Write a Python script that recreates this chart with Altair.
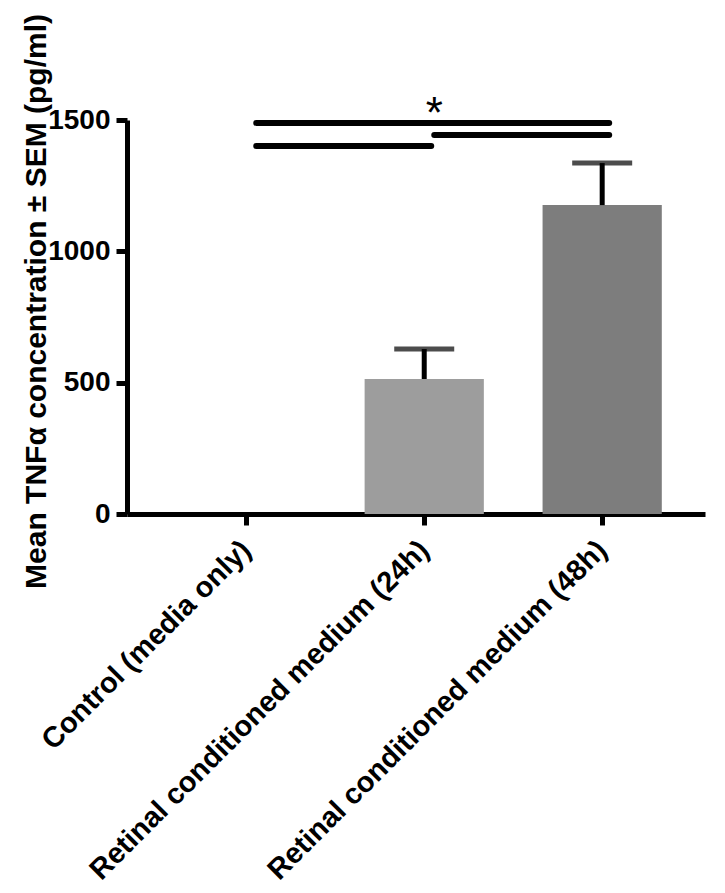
import altair as alt
import pandas as pd

# ---- data ----
categories = [
    "Control (media only)",
    "Retinal conditioned medium (24h)",
    "Retinal conditioned medium (48h)",
]
means = [0, 514, 1176]
sems = [0, 114, 160]
bar_colors = ["#ffffff", "#9d9d9d", "#7d7d7d"]

bracket_from = [categories[0], categories[1], categories[0]]
bracket_to = [categories[2], categories[2], categories[1]]
bracket_y = [1489, 1443, 1401]

star_text = ["*"]
star_cat = [categories[1]]
star_y = [1489]

y_ticks = [0, 500, 1000, 1500]
y_title = "Mean TNFα concentration ± SEM (pg/ml)"

# ---- tables ----
bars_df = pd.DataFrame({
    "group": categories,
    "mean": means,
    "sem": sems,
    "upper": [m + s for m, s in zip(means, sems)],
})
err_df = bars_df[bars_df["sem"] > 0]
br_df = pd.DataFrame({"from": bracket_from, "to": bracket_to, "y": bracket_y})
star_df = pd.DataFrame({"group": star_cat, "y": star_y, "t": star_text})

FONT = "Liberation Sans"

x_scale = alt.Scale(domain=categories, paddingInner=0.33, paddingOuter=0.289, align=0.58)
y_scale = alt.Scale(domain=[0, 1500], nice=False)
x_axis = alt.Axis(title=None)
y_axis = alt.Axis(title=y_title, values=y_ticks, format="d")

bars = alt.Chart(bars_df).mark_bar().encode(
    x=alt.X("group:N", scale=x_scale, axis=x_axis, sort=categories),
    y=alt.Y("mean:Q", scale=y_scale, axis=y_axis),
    color=alt.Color("group:N", scale=alt.Scale(domain=categories, range=bar_colors), legend=None),
)

err = alt.Chart(err_df).mark_rule(color="black", strokeWidth=5).encode(
    x=alt.X("group:N", scale=x_scale, axis=x_axis, sort=categories),
    y=alt.Y("mean:Q", scale=y_scale, axis=y_axis),
    y2="upper:Q",
)

caps = alt.Chart(err_df).mark_tick(color="black", size=60, thickness=5).encode(
    x=alt.X("group:N", scale=x_scale, axis=x_axis, sort=categories),
    y=alt.Y("upper:Q", scale=y_scale, axis=y_axis),
)

brackets = alt.Chart(br_df).mark_rule(
    color="black", strokeWidth=6, strokeCap="round", xOffset=10, x2Offset=7
).encode(
    x=alt.X("from:N", scale=x_scale, axis=x_axis, sort=categories),
    x2="to:N",
    y=alt.Y("y:Q", scale=y_scale, axis=y_axis),
)

star = alt.Chart(star_df).mark_text(
    font=FONT, fontSize=44, baseline="alphabetic", dx=10, dy=5, color="black"
).encode(
    x=alt.X("group:N", scale=x_scale, axis=x_axis, sort=categories),
    y=alt.Y("y:Q", scale=y_scale, axis=y_axis),
    text="t:N",
)

chart = alt.layer(bars, err, caps, brackets, star).properties(
    width=578,
    height=394,
    autosize=alt.AutoSizeParams(type="none"),
    padding={"left": 119, "top": 112, "right": 12, "bottom": 370},
).configure_view(stroke=None).configure_axis(
    domainColor="black", domainWidth=5, tickColor="black", tickWidth=5, tickSize=11,
    labelFont=FONT, labelFontWeight="bold", labelColor="black", grid=False,
    titleFont=FONT, titleFontWeight="bold", titleColor="black",
).configure_axisX(
    labelAngle=-45, labelAlign="right", labelBaseline="middle", labelPadding=20,
    labelFontSize=29, labelLimit=1000, labelOverlap=False,
).configure_axisY(
    labelFontSize=28, labelPadding=6, titleFontSize=30, titleX=-82, titleY=181,
    titleAlign="center", titleBaseline="alphabetic", titleAngle=270,
)

chart.save("out.html", embed_options={"renderer": "svg", "actions": False})
